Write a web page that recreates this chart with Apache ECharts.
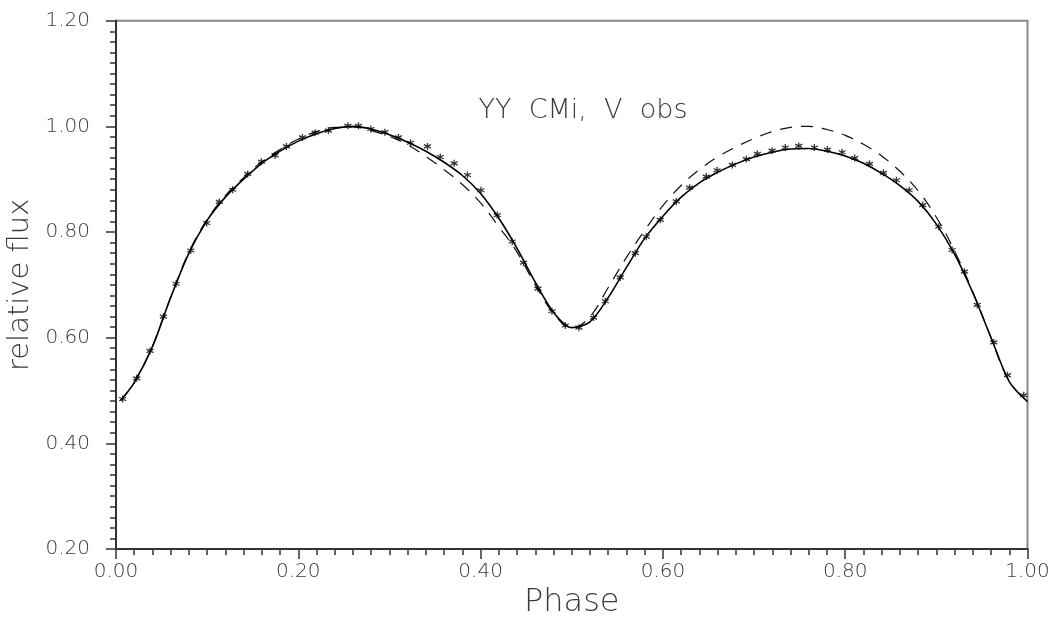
<!DOCTYPE html>
<html>
<head>
<meta charset="utf-8">
<script src="https://cdn.jsdelivr.net/npm/echarts@6/dist/echarts.min.js"></script>
<style>html,body{margin:0;padding:0;background:#fff}#c{width:1052px;height:621px}</style>
</head>
<body>
<div id="c"></div>
<script>
// Observed V data (phase, relative flux)
const obsPhase = [0.0073,0.0227,0.0373,0.0520,0.0659,0.0820,0.0995,0.1134,0.1280,0.1445,0.1595,0.1745,0.1870,0.2045,0.2184,0.2330,0.2543,0.2660,0.2796,0.2950,0.3099,0.3231,0.3417,0.3557,0.3710,0.3856,0.4003,0.4182,0.4347,0.4471,0.4629,0.4783,0.4929,0.5079,0.5239,0.5368,0.5532,0.5697,0.5818,0.5971,0.6147,0.6293,0.6476,0.6594,0.6762,0.6915,0.7036,0.7198,0.7343,0.7490,0.7662,0.7805,0.7966,0.8104,0.8266,0.8419,0.8562,0.8701,0.8851,0.9026,0.9173,0.9308,0.9448,0.9630,0.9780,0.9959];
const obsFlux  = [0.484,0.523,0.575,0.640,0.702,0.765,0.817,0.857,0.880,0.910,0.933,0.945,0.962,0.979,0.988,0.992,1.001,1.001,0.995,0.989,0.979,0.969,0.962,0.942,0.930,0.908,0.879,0.832,0.782,0.742,0.693,0.650,0.623,0.619,0.638,0.669,0.714,0.760,0.791,0.823,0.858,0.884,0.905,0.917,0.927,0.938,0.948,0.954,0.960,0.963,0.960,0.956,0.951,0.940,0.929,0.912,0.898,0.879,0.851,0.810,0.766,0.725,0.662,0.591,0.529,0.491];

// Model curves sampled in phase
const modelPhase = [0.005,0.02,0.04,0.06,0.08,0.10,0.12,0.14,0.16,0.18,0.20,0.22,0.24,0.26,0.28,0.30,0.32,0.34,0.36,0.38,0.40,0.42,0.44,0.46,0.48,0.50,0.52,0.54,0.56,0.58,0.60,0.62,0.64,0.66,0.68,0.70,0.72,0.74,0.76,0.78,0.80,0.82,0.84,0.86,0.88,0.90,0.92,0.94,0.96,0.98,1.00];
const solidFlux = [0.481,0.515,0.583,0.676,0.760,0.822,0.866,0.900,0.930,0.953,0.972,0.986,0.996,1.000,0.995,0.984,0.970,0.953,0.932,0.907,0.873,0.826,0.769,0.705,0.648,0.619,0.630,0.676,0.733,0.788,0.830,0.866,0.893,0.913,0.929,0.942,0.951,0.957,0.958,0.953,0.944,0.930,0.911,0.888,0.858,0.815,0.758,0.685,0.600,0.517,0.479];
const dashedFlux = [0.481,0.515,0.584,0.677,0.762,0.824,0.869,0.903,0.933,0.956,0.976,0.990,0.998,0.999,0.992,0.981,0.965,0.943,0.918,0.890,0.855,0.810,0.762,0.700,0.646,0.618,0.640,0.695,0.752,0.803,0.850,0.888,0.918,0.942,0.961,0.977,0.990,0.998,1.000,0.994,0.983,0.966,0.944,0.915,0.878,0.828,0.764,0.687,0.600,0.517,0.479];

const xTicks = [0, 0.2, 0.4, 0.6, 0.8, 1.0];
const yTicks = [0.2, 0.4, 0.6, 0.8, 1.0, 1.2];

const FONT = 'DejaVu Sans';
const TXT = '#3a3a3a';
const zip = (a, b) => a.map((v, i) => [v, b[i]]);
const chart = echarts.init(document.getElementById('c'));
chart.setOption({
  animation: false,
  backgroundColor: '#fff',
  title: {
    text: 'YY  CMi,  V  obs',
    left: 578, top: 92, textAlign: 'center',
    textStyle: { fontFamily: FONT, fontWeight: 200, fontSize: 27, color: TXT }
  },
  grid: { left: 116, right: 24.5, top: 20.7, bottom: 72, outerBoundsMode: 'none', containLabel: false,
          show: true, borderColor: '#888', borderWidth: 2, backgroundColor: 'transparent' },
  xAxis: {
    type: 'value', min: xTicks[0], max: xTicks[xTicks.length - 1], interval: 0.2,
    name: 'Phase', nameLocation: 'middle', nameGap: 37,
    nameTextStyle: { fontFamily: FONT, fontWeight: 200, fontSize: 32, color: TXT },
    axisLine: { lineStyle: { color: '#333', width: 2 } },
    axisTick: { inside: false, length: 10, lineStyle: { color: '#333', width: 1.5 } },
    minorTick: { show: true, splitNumber: 10, length: 6, lineStyle: { color: '#333', width: 1.5 } },
    splitLine: { show: false },
    axisLabel: { margin: 13, formatter: v => v.toFixed(2), fontFamily: FONT, fontWeight: 200, fontSize: 20, color: TXT }
  },
  yAxis: {
    type: 'value', min: yTicks[0], max: yTicks[yTicks.length - 1], interval: 0.2,
    name: 'relative flux', nameLocation: 'middle', nameGap: 79, nameRotate: 90,
    nameTextStyle: { fontFamily: FONT, fontWeight: 200, fontSize: 29, color: TXT },
    axisLine: { lineStyle: { color: '#333', width: 2 } },
    axisTick: { inside: false, length: 10, lineStyle: { color: '#333', width: 1.5 } },
    minorTick: { show: true, splitNumber: 10, length: 6, lineStyle: { color: '#333', width: 1.5 } },
    splitLine: { show: false },
    axisLabel: { margin: 26, formatter: v => v.toFixed(2), fontFamily: FONT, fontWeight: 200, fontSize: 20, color: TXT }
  },
  series: [
    {
      type: 'line', data: zip(modelPhase, dashedFlux), showSymbol: false, smooth: 0.4,
      lineStyle: { color: '#111', width: 1.2, type: [12, 9] }, z: 2
    },
    {
      type: 'line', data: zip(modelPhase, solidFlux), showSymbol: false, smooth: 0.3,
      lineStyle: { color: '#000', width: 1.6 }, z: 3
    },
    {
      type: 'scatter', data: zip(obsPhase, obsFlux),
      symbol: 'path://M0,-5L0,5M-4.33,-2.5L4.33,2.5M-4.33,2.5L4.33,-2.5',
      symbolSize: 7,
      itemStyle: { color: '#000', borderColor: '#000', borderWidth: 1.3 }, z: 4
    }
  ]
});
</script>
</body>
</html>
